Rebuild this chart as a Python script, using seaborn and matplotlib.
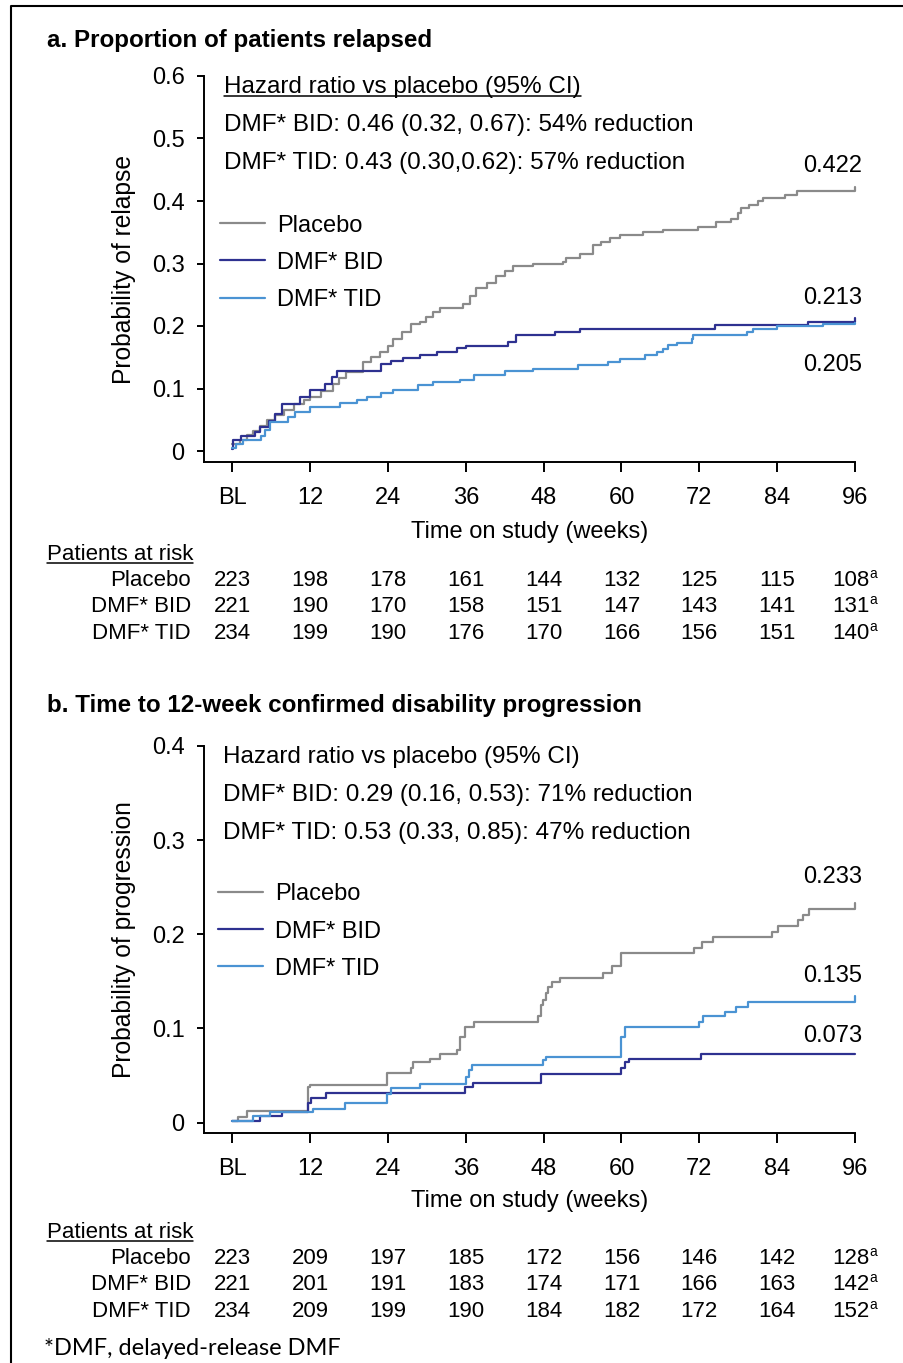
import matplotlib
matplotlib.use("Agg")
import matplotlib.pyplot as plt
import matplotlib.transforms as mtransforms
from matplotlib.lines import Line2D
import pandas as pd
import seaborn as sns

W, H = 904, 1363

# ---------------- data ----------------
arms = ["Placebo", "DMF* BID", "DMF* TID"]
arm_colors = {"Placebo": "#8a8a8a", "DMF* BID": "#2e3190", "DMF* TID": "#4a93d3"}
week_ticks = [0, 12, 24, 36, 48, 60, 72, 84, 96]
week_labels = ["BL", "12", "24", "36", "48", "60", "72", "84", "96"]

# a. relapse (Kaplan-Meier cumulative probability)
rel_placebo_wk = [0, 1.2, 2.2, 3.2, 4.3, 5.3, 6.6, 8.0, 9.5, 11.0, 12.0, 13.6, 15.5, 16.5,
                  17.6, 20.1, 21.4, 22.7, 24.0, 24.8, 26.2, 27.6, 28.9, 29.9, 31.0, 32.0,
                  35.6, 36.6, 37.6, 39.2, 40.7, 42.0, 43.3, 46.3, 51.0, 51.5, 53.6, 55.6,
                  56.9, 58.2, 59.7, 63.3, 66.4, 71.8, 74.6, 76.9, 77.9, 78.5, 79.7, 81.0,
                  81.8, 85.2, 87.0, 96.0]
rel_placebo_p = [0.012, 0.018, 0.025, 0.032, 0.040, 0.049, 0.057, 0.066, 0.075, 0.081,
                 0.086, 0.096, 0.108, 0.117, 0.126, 0.142, 0.150, 0.158, 0.168, 0.180,
                 0.191, 0.203, 0.207, 0.215, 0.222, 0.229, 0.236, 0.248, 0.261, 0.269,
                 0.280, 0.288, 0.296, 0.299, 0.302, 0.309, 0.315, 0.330, 0.335, 0.340,
                 0.345, 0.350, 0.354, 0.359, 0.366, 0.371, 0.380, 0.388, 0.394, 0.400,
                 0.405, 0.410, 0.416, 0.422]
rel_bid_wk = [0, 0.1, 1.4, 3.5, 4.3, 5.6, 6.6, 7.6, 10.4, 12.0, 14.3, 15.3, 16.1, 23.0,
              24.5, 26.3, 28.9, 31.5, 34.6, 36.1, 42.5, 43.8, 49.7, 53.6, 74.4, 88.7, 96.0]
rel_bid_p = [0.003, 0.017, 0.024, 0.030, 0.039, 0.048, 0.060, 0.076, 0.087, 0.098, 0.108,
             0.118, 0.128, 0.139, 0.144, 0.149, 0.154, 0.159, 0.165, 0.168, 0.175, 0.186,
             0.190, 0.196, 0.202, 0.207, 0.213]
rel_tid_wk = [0, 0.5, 1.7, 4.5, 5.0, 5.8, 8.6, 9.7, 12.0, 16.6, 19.2, 20.7, 23.0, 24.8,
              28.7, 31.0, 35.1, 37.2, 42.0, 46.4, 53.3, 57.9, 59.7, 63.6, 65.4, 66.4,
              67.2, 68.5, 70.8, 71.1, 79.3, 80.3, 83.9, 91.0, 96.0]
rel_tid_p = [0.005, 0.012, 0.017, 0.024, 0.034, 0.047, 0.055, 0.062, 0.070, 0.077, 0.082,
             0.086, 0.093, 0.098, 0.105, 0.110, 0.114, 0.122, 0.128, 0.131, 0.137, 0.142,
             0.147, 0.153, 0.158, 0.163, 0.169, 0.173, 0.179, 0.186, 0.190, 0.195, 0.200,
             0.203, 0.205]

# b. 12-week confirmed disability progression
prog_placebo_wk = [0, 0.9, 2.2, 11.7, 12.0, 23.8, 27.6, 27.9, 30.5, 32.0, 34.6, 35.1, 35.8,
                   37.3, 47.1, 47.6, 47.9, 48.3, 48.7, 49.3, 50.5, 57.1, 58.5, 60.0, 71.2,
                   72.4, 74.1, 83.2, 84.1, 87.2, 88.0, 88.9, 96.0]
prog_placebo_p = [0.002, 0.006, 0.012, 0.038, 0.040, 0.053, 0.058, 0.064, 0.068, 0.073,
                  0.077, 0.091, 0.102, 0.107, 0.113, 0.125, 0.130, 0.138, 0.144, 0.149,
                  0.154, 0.159, 0.166, 0.180, 0.186, 0.192, 0.197, 0.203, 0.209, 0.215,
                  0.220, 0.227, 0.233]
prog_bid_wk = [0, 4.2, 7.6, 11.7, 12.2, 14.5, 35.8, 37.1, 47.6, 60.0, 60.6, 61.2, 72.3, 96.0]
prog_bid_p = [0.002, 0.007, 0.011, 0.021, 0.026, 0.032, 0.038, 0.042, 0.052, 0.058, 0.064,
              0.068, 0.073, 0.073]
prog_tid_wk = [0, 3.2, 5.8, 12.5, 17.4, 23.8, 24.5, 28.9, 36.0, 36.5, 36.9, 47.9, 48.4,
               60.0, 60.5, 71.9, 72.5, 75.9, 77.7, 79.5, 96.0]
prog_tid_p = [0.002, 0.007, 0.011, 0.014, 0.021, 0.030, 0.037, 0.041, 0.048, 0.056, 0.061,
              0.067, 0.070, 0.091, 0.102, 0.107, 0.113, 0.117, 0.123, 0.128, 0.135]

# patients at risk
risk_rel_placebo = [223, 198, 178, 161, 144, 132, 125, 115, 108]
risk_rel_bid = [221, 190, 170, 158, 151, 147, 143, 141, 131]
risk_rel_tid = [234, 199, 190, 176, 170, 166, 156, 151, 140]
risk_prog_placebo = [223, 209, 197, 185, 172, 156, 146, 142, 128]
risk_prog_bid = [221, 201, 191, 183, 174, 171, 166, 163, 142]
risk_prog_tid = [234, 209, 199, 190, 184, 182, 172, 164, 152]

hr_rel = ["Hazard ratio vs placebo (95% CI)",
          "DMF* BID: 0.46 (0.32, 0.67): 54% reduction",
          "DMF* TID: 0.43 (0.30,0.62): 57% reduction"]
hr_prog = ["Hazard ratio vs placebo (95% CI)",
           "DMF* BID: 0.29 (0.16, 0.53): 71% reduction",
           "DMF* TID: 0.53 (0.33, 0.85): 47% reduction"]


def long_df(wks, ps):
    rows = []
    for arm, w, p in zip(arms, wks, ps):
        rows.append(pd.DataFrame({"week": w, "prob": p, "arm": arm}))
    return pd.concat(rows, ignore_index=True)


df_rel = long_df([rel_placebo_wk, rel_bid_wk, rel_tid_wk], [rel_placebo_p, rel_bid_p, rel_tid_p])
df_prog = long_df([prog_placebo_wk, prog_bid_wk, prog_tid_wk],
                  [prog_placebo_p, prog_bid_p, prog_tid_p])

# ---------------- style ----------------
sns.set_style("ticks", rc={"axes.edgecolor": "black", "xtick.color": "black",
                           "ytick.color": "black", "text.color": "black",
                           "axes.labelcolor": "black"})
plt.rcParams["font.family"] = ["Liberation Sans", "DejaVu Sans"]

FS = 17
fig = plt.figure(figsize=(W / 100, H / 100), dpi=100)


def fx(x):
    return x / W


def fy(y):
    return 1 - y / H


def text_px(x, y, s, size=FS, **kw):
    return fig.text(fx(x), fy(y), s, fontsize=size, va="baseline", **kw)


def underline(t, gap=2.5):
    fig.canvas.draw()
    bb = t.get_window_extent()
    x0, x1 = bb.x0, bb.x1
    _, yb = t.get_transform().transform(t.get_position())
    fig.add_artist(Line2D([x0 / W, x1 / W], [(yb - gap) / H] * 2,
                          transform=fig.transFigure, color="black", lw=1.1))


def panel(ax, df, ylow, ymax, yticks, ylabels, ylabel, xlab_y, legend_xy, end_offsets):
    sns.lineplot(data=df, x="week", y="prob", hue="arm", hue_order=arms, palette=arm_colors,
                 estimator=None, sort=False, drawstyle="steps-post", linewidth=1.6,
                 legend=False, clip_on=False, ax=ax)
    ax.set_xlim(-4.36, 96)
    ax.set_ylim(ylow, ymax)
    ax.set_xticks(week_ticks, week_labels)
    ax.set_yticks(yticks, ylabels)
    sns.despine(ax=ax)
    for s in ("left", "bottom"):
        ax.spines[s].set_linewidth(1.4)
    ax.tick_params(axis="y", length=5, width=1.4, labelsize=FS, pad=9)
    ax.tick_params(axis="x", length=7, width=1.4, labelsize=FS, pad=11)
    ax.set_xlabel("Time on study (weeks)", fontsize=FS)
    ax.set_ylabel(ylabel, fontsize=17.7)
    ax.xaxis.set_label_coords(0.5, xlab_y)
    ax.yaxis.set_label_coords(-0.105, 0.5)
    handles = [Line2D([], [], color=arm_colors[a], lw=1.6) for a in arms]
    ax.legend(handles, arms, loc="upper left", bbox_to_anchor=legend_xy, frameon=False,
              fontsize=FS, handlelength=1.9, handletextpad=0.5, labelspacing=0.64,
              borderpad=0, borderaxespad=0)
    # final estimate printed at the right end of each curve
    for arm in arms:
        last = df[df["arm"] == arm]["prob"].iloc[-1]
        ax.annotate(f"{last:.3f}", xy=(96, last), xytext=(5, end_offsets[arm]),
                    textcoords="offset points", ha="right", va="center", fontsize=FS)


ax_a = fig.add_axes([fx(204), fy(462), fx(855) - fx(204), fy(76) - fy(462)])
ax_b = fig.add_axes([fx(204), fy(1133.3), fx(855) - fx(204), fy(746) - fy(1133.3)])

panel(ax_a, df_rel, -0.0176, 0.6, [0, 0.1, 0.2, 0.3, 0.4, 0.5, 0.6],
      ["0", "0.1", "0.2", "0.3", "0.4", "0.5", "0.6"], "Probability of relapse",
      -0.153, (0.0246, 0.641),
      {"Placebo": 15, "DMF* BID": 14, "DMF* TID": -30})
panel(ax_b, df_prog, -0.0113, 0.4, [0, 0.1, 0.2, 0.3, 0.4],
      ["0", "0.1", "0.2", "0.3", "0.4"], "Probability of progression",
      -0.146, (0.0215, 0.645),
      {"Placebo": 19, "DMF* BID": 13, "DMF* TID": 14})

# titles
text_px(47, 46.7, "a. Proportion of patients relapsed", size=17.4, weight="bold")
text_px(47, 711.7, "b. Time to 12-week confirmed disability progression", size=17.4,
        weight="bold")

# hazard ratio blocks
HR = 17.5
t = text_px(224, 93.5, hr_rel[0], size=HR)
underline(t)
for i, s in enumerate(hr_rel[1:]):
    text_px(224, 131.5 + 38 * i, s, size=HR)
for i, s in enumerate(hr_prog):
    text_px(223, 763.5 + 38 * i, s, size=HR)


# patients-at-risk tables
def risk_table(ax, head_y, rows):
    t = text_px(47, head_y, "Patients at risk", size=16)
    underline(t)
    trans = mtransforms.blended_transform_factory(ax.transData, fig.transFigure)
    for k, (arm, counts) in enumerate(zip(arms, rows)):
        yb = head_y + 26 + 26.5 * k
        text_px(191, yb, arm, size=16, ha="right")
        for wk, n in zip(week_ticks[:-1], counts[:-1]):
            ax.text(wk, fy(yb), str(n), transform=trans, fontsize=16, ha="center",
                    va="baseline", clip_on=False)
        # last column carries a superscript footnote mark
        ax.annotate(str(counts[-1]), xy=(week_ticks[-1], fy(yb)), xycoords=trans,
                    xytext=(-3, 0), textcoords="offset points", fontsize=16,
                    ha="center", va="baseline", annotation_clip=False)
        ax.annotate("a", xy=(week_ticks[-1], fy(yb)), xycoords=trans,
                    xytext=(10.5, 6), textcoords="offset points", fontsize=10,
                    ha="left", va="baseline", annotation_clip=False)


risk_table(ax_a, 560, [risk_rel_placebo, risk_rel_bid, risk_rel_tid])
risk_table(ax_b, 1238, [risk_prog_placebo, risk_prog_bid, risk_prog_tid])

text_px(44, 1355, "*DMF, delayed-release DMF", size=17, family=["Lato", "DejaVu Sans"])

# frame around the figure (right and bottom edges fall outside the image)
fig.add_artist(Line2D([fx(11), fx(11), 1.0], [0.0, fy(6), fy(6)],
                      transform=fig.transFigure, color="black", lw=1.5))

fig.savefig("out.png", dpi=100)
